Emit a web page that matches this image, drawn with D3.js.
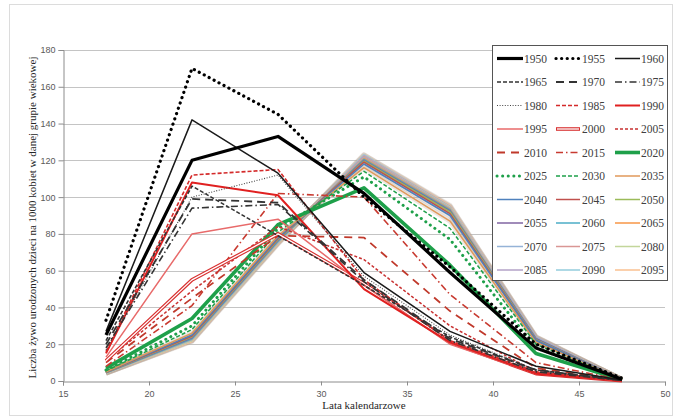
<!DOCTYPE html>
<html>
<head>
<meta charset="utf-8">
<script src="https://cdn.jsdelivr.net/npm/d3@7"></script>
<style>
  html, body { margin: 0; padding: 0; background: #ffffff; }
  svg { display: block; }
</style>
</head>
<body>
<svg id="chart" width="674" height="417"></svg>
<script>
// Age-group midpoints (x axis) and axis ticks
const ages = [17.5, 22.5, 27.5, 32.5, 37.5, 42.5, 47.5];
const xTicks = [15, 20, 25, 30, 35, 40, 45, 50];
const yTicks = [0, 20, 40, 60, 80, 100, 120, 140, 160, 180];

// Births per 1000 women in each age group, by calendar year
const years = [1950, 1955, 1960, 1965, 1970, 1975, 1980, 1985, 1990, 1995,
               2000, 2005, 2010, 2015, 2020, 2025, 2030, 2035, 2040, 2045,
               2050, 2055, 2060, 2065, 2070, 2075, 2080, 2085, 2090, 2095];

const v1950 = [25, 120, 133, 102, 59, 18, 1];
const v1955 = [33, 170, 145, 100, 62, 20, 1.5];
const v1960 = [27, 142, 113, 59, 27, 8, 0.5];
const v1965 = [22, 106, 79, 52, 24, 6, 0.4];
const v1970 = [20, 99, 97, 55, 23, 6, 0.4];
const v1975 = [18, 94, 96, 54, 22, 5, 0.3];
const v1980 = [17, 100, 112, 57, 25, 6, 0.3];
const v1985 = [16, 112, 115, 55, 22, 5, 0.3];
const v1990 = [15, 108, 101, 50, 21, 4, 0.2];
const v1995 = [13, 80, 88, 52, 20, 4, 0.2];
const v2000 = [11, 55, 80, 53, 21, 4, 0.2];
const v2005 = [11, 49, 84, 66, 30, 5, 0.3];
const v2010 = [10, 45, 79, 78, 38, 7, 0.4];
const v2015 = [8, 41, 102, 100, 47, 10, 0.5];
const v2020 = [7, 34, 85, 105, 63, 15, 0.6];
const v2025 = [6, 30, 83, 111, 77, 18, 0.7];
const v2030 = [5.5, 28, 81, 114, 83, 20, 0.7];
const v2035 = [5, 26, 79, 116, 87, 21, 0.8];
const v2040 = [5, 25, 78, 118, 90, 22, 0.8];
const v2045 = [4.8, 24.5, 77.5, 119, 91, 22, 0.8];
const v2050 = [4.7, 24, 77, 119.5, 92, 22.5, 0.8];
const v2055 = [4.6, 23.5, 76.5, 120, 92.5, 23, 0.8];
const v2060 = [4.5, 23, 76, 120.5, 93, 23, 0.8];
const v2065 = [4.5, 23, 76, 121, 93.5, 23, 0.8];
const v2070 = [4.4, 22.5, 75.5, 121.5, 94, 23.5, 0.8];
const v2075 = [4.4, 22.5, 75.5, 122, 94, 23.5, 0.8];
const v2080 = [4.3, 22, 75, 122, 94.5, 23.5, 0.8];
const v2085 = [4.3, 22, 75, 122.5, 95, 24, 0.8];
const v2090 = [4.2, 22, 75, 123, 95, 24, 0.8];
const v2095 = [4.2, 21.5, 74.5, 123, 95.5, 24, 0.8];

const values = [v1950, v1955, v1960, v1965, v1970, v1975, v1980, v1985, v1990, v1995,
                v2000, v2005, v2010, v2015, v2020, v2025, v2030, v2035, v2040, v2045,
                v2050, v2055, v2060, v2065, v2070, v2075, v2080, v2085, v2090, v2095];

// Line styles per year: colour, width, dash pattern, round caps for dots, double line, soft shadow
const styles = {
  1950: { c: "#000000", w: 3.2 },
  1955: { c: "#000000", w: 3.2, d: "0.1 5.5", cap: "round" },
  1960: { c: "#1a1a1a", w: 1.5 },
  1965: { c: "#333333", w: 1.6, d: "4 2" },
  1970: { c: "#333333", w: 1.8, d: "8 5" },
  1975: { c: "#333333", w: 1.6, d: "7 3 1.5 3" },
  1980: { c: "#444444", w: 1.1, d: "1 1.6" },
  1985: { c: "#d42a2a", w: 1.6, d: "4 2" },
  1990: { c: "#e02020", w: 2.0 },
  1995: { c: "#e86a6a", w: 1.5 },
  2000: { c: "#d83030", w: 3.6, dbl: true },
  2005: { c: "#c83030", w: 1.5, d: "3 2" },
  2010: { c: "#c0392b", w: 1.8, d: "8 6" },
  2015: { c: "#c83a30", w: 1.6, d: "7 3 1.5 3" },
  2020: { c: "#1ea04a", w: 3.6 },
  2025: { c: "#1ea04a", w: 3.0, d: "0.1 5.5", cap: "round" },
  2030: { c: "#1ea04a", w: 1.5, d: "4 2" },
  2035: { c: "#e0995a", w: 1.5, sh: true },
  2040: { c: "#4f81bd", w: 1.5, sh: true },
  2045: { c: "#c0504d", w: 1.5, sh: true },
  2050: { c: "#9bbb59", w: 1.5, sh: true },
  2055: { c: "#8064a2", w: 1.5, sh: true },
  2060: { c: "#4bacc6", w: 1.5, sh: true },
  2065: { c: "#f79646", w: 1.5, sh: true },
  2070: { c: "#95b3d7", w: 1.5, sh: true },
  2075: { c: "#d99694", w: 1.5, sh: true },
  2080: { c: "#c3d69b", w: 1.5, sh: true },
  2085: { c: "#b3a2c7", w: 1.5, sh: true },
  2090: { c: "#93cddd", w: 1.5, sh: true },
  2095: { c: "#fac090", w: 1.5, sh: true }
};

const svg = d3.select("#chart");
const W = 674, H = 417;
const plot = { left: 63, right: 665, top: 50, bottom: 381 };

// Chart area frame
svg.append("rect")
  .attr("x", 9.5).attr("y", 4.5)
  .attr("width", W - 11).attr("height", H - 6)
  .attr("fill", "#ffffff").attr("stroke", "#dcdcdc").attr("stroke-width", 1);

const x = d3.scaleLinear().domain([15, 50]).range([plot.left, plot.right]);
const y = d3.scaleLinear().domain([0, 180]).range([plot.bottom, plot.top]);

// Horizontal gridlines
svg.append("g")
  .selectAll("line")
  .data(yTicks.filter(t => t > 0))
  .join("line")
  .attr("x1", plot.left).attr("x2", plot.right)
  .attr("y1", d => Math.round(y(d)) + 0.5).attr("y2", d => Math.round(y(d)) + 0.5)
  .attr("stroke", "#c4c4c4").attr("stroke-width", 1);

// Axes
const tickFont = "'Liberation Sans', Arial, sans-serif";
const yAxis = svg.append("g")
  .attr("transform", `translate(${plot.left + 0.5},0)`)
  .call(d3.axisLeft(y).tickValues(yTicks).tickSize(5).tickPadding(3).tickFormat(d3.format("d")));
const xAxis = svg.append("g")
  .attr("transform", `translate(0,${plot.bottom + 0.5})`)
  .call(d3.axisBottom(x).tickValues(xTicks).tickSize(4).tickPadding(5).tickFormat(d3.format("d")));
[yAxis, xAxis].forEach(a => {
  a.select(".domain").attr("stroke", "#8c8c8c");
  a.selectAll(".tick line").attr("stroke", "#8c8c8c");
  a.selectAll(".tick text")
    .attr("fill", "#595959")
    .style("font-family", tickFont)
    .style("font-size", "9px");
});

// Series lines
const line = d3.line().x((d, i) => x(ages[i])).y(d => y(d));
const series = years.map((yr, i) => ({ year: yr, vals: values[i], s: styles[yr] }));

const gLines = svg.append("g");
// soft shadows beneath the projection lines
gLines.selectAll("path.shadow")
  .data(series.filter(d => d.s.sh))
  .join("path")
  .attr("class", "shadow")
  .attr("d", d => line(d.vals))
  .attr("fill", "none")
  .attr("stroke", "#b9aa9a")
  .attr("stroke-opacity", 0.28)
  .attr("stroke-width", 5)
  .attr("stroke-linejoin", "round");

// draw in reverse so the earliest years sit on top
const drawOrder = series.slice().reverse();
drawOrder.forEach(d => {
  const p = gLines.append("path")
    .attr("d", line(d.vals))
    .attr("fill", "none")
    .attr("stroke", d.s.c)
    .attr("stroke-width", d.s.w)
    .attr("stroke-linejoin", "round")
    .attr("stroke-linecap", d.s.cap || "butt");
  if (d.s.d) p.attr("stroke-dasharray", d.s.d);
  if (d.s.dbl) {
    gLines.append("path")
      .attr("d", line(d.vals))
      .attr("fill", "none")
      .attr("stroke", "#ffffff")
      .attr("stroke-width", 1.3)
      .attr("stroke-linejoin", "round");
  }
});

// Axis titles
const titleFont = "'Liberation Serif', 'Times New Roman', serif";
svg.append("text")
  .attr("x", (plot.left + plot.right) / 2)
  .attr("y", 409)
  .attr("text-anchor", "middle")
  .attr("fill", "#262626")
  .style("font-family", titleFont)
  .style("font-size", "11px")
  .text("Lata kalendarzowe");

svg.append("text")
  .attr("transform", `translate(36,${(plot.top + plot.bottom) / 2 + 2}) rotate(-90)`)
  .attr("text-anchor", "middle")
  .attr("fill", "#262626")
  .style("font-family", titleFont)
  .style("font-size", "11px")
  .text("Liczba żywo urodzonych dzieci na 1000 kobiet w danej grupie wiekowej");

// Legend
const lg = { x: 492, y: 45, w: 175, h: 235, row0: 58.5, rowH: 23.5 };
const colLine = [[497, 523], [556, 580], [615, 640]];
const colText = [524, 582, 641];
const legend = svg.append("g");
legend.append("rect")
  .attr("x", lg.x + 0.5).attr("y", lg.y + 0.5)
  .attr("width", lg.w).attr("height", lg.h)
  .attr("fill", "#ffffff").attr("stroke", "#555555").attr("stroke-width", 1);

series.forEach((d, i) => {
  const col = i % 3, row = Math.floor(i / 3);
  const cy = lg.row0 + row * lg.rowH;
  const [x1, x2] = colLine[col];
  const seg = legend.append("line")
    .attr("x1", x1).attr("x2", x2).attr("y1", cy).attr("y2", cy)
    .attr("stroke", d.s.c)
    .attr("stroke-width", d.s.w)
    .attr("stroke-linecap", d.s.cap || "butt");
  if (d.s.d) seg.attr("stroke-dasharray", d.s.d);
  if (d.s.dbl) {
    legend.append("line")
      .attr("x1", x1 + 1).attr("x2", x2 - 1).attr("y1", cy).attr("y2", cy)
      .attr("stroke", "#ffffff").attr("stroke-width", 1.3);
  }
  legend.append("text")
    .attr("x", colText[col])
    .attr("y", cy + 4)
    .attr("fill", "#404040")
    .style("font-family", titleFont)
    .style("font-size", "11.5px")
    .text(d.year);
});
</script>
</body>
</html>
